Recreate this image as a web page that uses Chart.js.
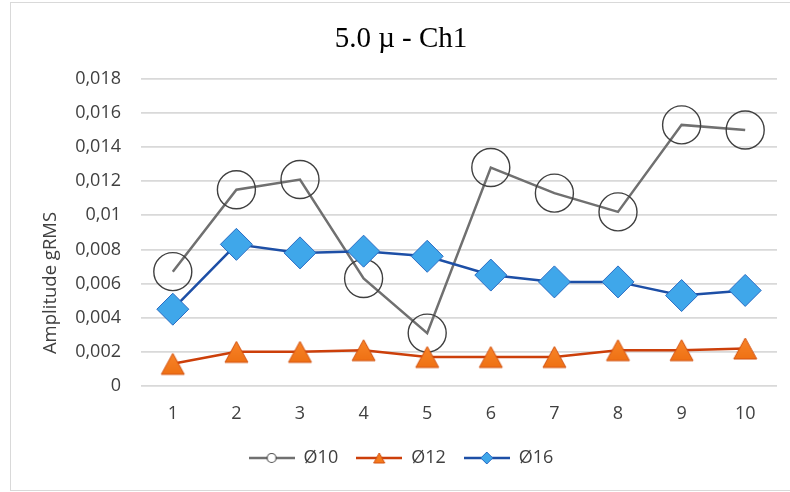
<!DOCTYPE html>
<html lang="fr">
<head>
<meta charset="UTF-8">
<title>5.0 µ - Ch1</title>
<script src="https://cdn.jsdelivr.net/npm/chart.js@4.4.7/dist/chart.umd.min.js"></script>
<style>
  * { margin: 0; padding: 0; box-sizing: border-box; }
  body { background: #fff; width: 790px; height: 492px; overflow: hidden; }
  .wrap { position: relative; width: 790px; height: 492px; }
</style>
</head>
<body>
<div class="wrap"><canvas id="chart"></canvas></div>
<script>
  // données
  const positions = ['1', '2', '3', '4', '5', '6', '7', '8', '9', '10'];
  const d10 = [0.0067, 0.0115, 0.0121, 0.0063, 0.0031, 0.0128, 0.0113, 0.0102, 0.0153, 0.0150];
  const d12 = [0.0013, 0.0020, 0.0020, 0.0021, 0.0017, 0.0017, 0.0017, 0.0021, 0.0021, 0.0022];
  const d16 = [0.0045, 0.0083, 0.0078, 0.0079, 0.0076, 0.0065, 0.0061, 0.0061, 0.0053, 0.0056];
  const yTicks = [0, 0.002, 0.004, 0.006, 0.008, 0.01, 0.012, 0.014, 0.016, 0.018];

  const FONT = "'Open Sans', sans-serif";
  const TXT = '#404040';

  function makeCanvas(w, h, draw) {
    const c = document.createElement('canvas');
    c.width = w; c.height = h;
    draw(c.getContext('2d'), w, h);
    return c;
  }

  function triangle(ctx, cx, cy, w, h) {
    ctx.beginPath();
    ctx.moveTo(cx - w / 2, cy + h / 2);
    ctx.lineTo(cx + w / 2, cy + h / 2);
    ctx.lineTo(cx, cy - h / 2);
    ctx.closePath();
  }

  // triangle centré sur sa boîte (comme Excel)
  const triMarker = makeCanvas(27, 25, (ctx, w, h) => {
    const g = ctx.createLinearGradient(0, 0, 0, h);
    g.addColorStop(0, '#f9862a');
    g.addColorStop(1, '#ee6f12');
    triangle(ctx, w / 2, h / 2, 23, 21);
    ctx.fillStyle = g;
    ctx.fill();
    ctx.strokeStyle = '#d2500e';
    ctx.lineWidth = 1;
    ctx.stroke();
  });

  // icônes de légende : trait + petit marqueur
  const icon10 = makeCanvas(46, 14, (ctx, w, h) => {
    ctx.strokeStyle = '#707070'; ctx.lineWidth = 2.5;
    ctx.beginPath(); ctx.moveTo(0, h / 2); ctx.lineTo(w, h / 2); ctx.stroke();
    ctx.beginPath(); ctx.arc(w / 2, h / 2, 4.5, 0, Math.PI * 2);
    ctx.fillStyle = '#fff'; ctx.fill();
    ctx.strokeStyle = '#505050'; ctx.lineWidth = 1.2; ctx.stroke();
  });
  const icon12 = makeCanvas(46, 14, (ctx, w, h) => {
    ctx.strokeStyle = '#cc3f0a'; ctx.lineWidth = 2.5;
    ctx.beginPath(); ctx.moveTo(0, h / 2); ctx.lineTo(w, h / 2); ctx.stroke();
    triangle(ctx, w / 2, h / 2, 11, 10);
    ctx.fillStyle = '#f57a1c'; ctx.fill();
    ctx.strokeStyle = '#d2500e'; ctx.lineWidth = 1; ctx.stroke();
  });
  const icon16 = makeCanvas(46, 14, (ctx, w, h) => {
    ctx.strokeStyle = '#1d4fa6'; ctx.lineWidth = 2.5;
    ctx.beginPath(); ctx.moveTo(0, h / 2); ctx.lineTo(w, h / 2); ctx.stroke();
    ctx.beginPath();
    ctx.moveTo(w / 2 - 6, h / 2); ctx.lineTo(w / 2, h / 2 - 6);
    ctx.lineTo(w / 2 + 6, h / 2); ctx.lineTo(w / 2, h / 2 + 6); ctx.closePath();
    ctx.fillStyle = '#3fa7ea'; ctx.fill();
    ctx.strokeStyle = '#2a6cc4'; ctx.lineWidth = 1; ctx.stroke();
  });
  const icons = [icon10, icon12, icon16];

  // cadre + titre d'axe vertical
  const frame = {
    id: 'frame',
    beforeDraw(chart) {
      const ctx = chart.ctx;
      ctx.save();
      ctx.fillStyle = '#fff';
      ctx.fillRect(0, 0, chart.width, chart.height);
      ctx.strokeStyle = '#d9d9d9';
      ctx.lineWidth = 1;
      ctx.strokeRect(10.5, 2.5, chart.width, chart.height - 4);
      ctx.restore();
    },
    afterDraw(chart) {
      const ctx = chart.ctx;
      ctx.save();
      ctx.translate(51, 283);
      ctx.rotate(-Math.PI / 2);
      ctx.font = '18.5px ' + FONT;
      ctx.fillStyle = TXT;
      ctx.textAlign = 'center';
      ctx.textBaseline = 'middle';
      ctx.fillText('Amplitude gRMS', 0, 0);
      ctx.restore();
    }
  };

  new Chart(document.getElementById('chart'), {
    type: 'line',
    data: {
      labels: positions,
      datasets: [
        {
          label: 'Ø10',
          data: d10,
          borderColor: '#707070',
          borderWidth: 2.5,
          pointStyle: 'circle',
          pointRadius: 19,
          pointBackgroundColor: 'rgba(0,0,0,0)',
          pointBorderColor: '#404040',
          pointBorderWidth: 1.4,
          tension: 0,
          order: 2,
        },
        {
          label: 'Ø12',
          data: d12,
          borderColor: '#cc3f0a',
          borderWidth: 2.5,
          pointStyle: triMarker,
          tension: 0,
          order: 1,
        },
        {
          label: 'Ø16',
          data: d16,
          borderColor: '#1d4fa6',
          borderWidth: 2.5,
          pointStyle: 'rectRot',
          pointRadius: 16,
          pointBackgroundColor: '#3fa7ea',
          pointBorderColor: '#2a6cc4',
          pointBorderWidth: 1,
          tension: 0,
          order: 0,
        }
      ]
    },
    options: {
      responsive: true,
      maintainAspectRatio: false,
      animation: false,
      events: [],
      layout: { autoPadding: false, padding: { top: 9, right: 13, bottom: 15, left: 25 } },
      plugins: {
        title: {
          display: true,
          text: '5.0 µ - Ch1',
          color: '#000',
          font: { family: "'Liberation Serif', 'Times New Roman', serif", size: 29, weight: 'normal' },
          padding: { top: 13, bottom: 22 }
        },
        legend: {
          position: 'bottom',
          labels: {
            usePointStyle: true,
            pointStyleWidth: 46,
            padding: 18,
            color: TXT,
            font: { family: FONT, size: 18 },
            generateLabels(chart) {
              return chart.data.datasets.map((ds, i) => ({
                text: ds.label,
                pointStyle: icons[i],
                datasetIndex: i,
                hidden: false,
                lineWidth: 0,
                fontColor: TXT,
              }));
            }
          }
        },
        tooltip: { enabled: false }
      },
      scales: {
        x: {
          offset: true,
          grid: {
            display: true,
            offset: true,
            drawOnChartArea: false,
            drawTicks: true,
            tickLength: 17,
            tickColor: 'rgba(0,0,0,0)'
          },
          border: { display: false },
          ticks: { color: TXT, font: { family: FONT, size: 18 }, padding: 0 },
          afterFit(scale) { scale.height = 45; }
        },
        y: {
          min: 0,
          max: 0.018,
          afterBuildTicks(scale) { scale.ticks = yTicks.map(v => ({ value: v })); },
          grid: { color: '#d9d9d9', lineWidth: 1.8, drawTicks: false },
          border: { display: false },
          ticks: {
            color: TXT,
            font: { family: FONT, size: 18 },
            padding: 20,
            callback(v) { return v === 0 ? '0' : String(+v.toFixed(3)).replace('.', ','); }
          },
          afterFit(scale) { scale.width = 116; }
        }
      }
    },
    plugins: [frame]
  });
</script>
</body>
</html>
